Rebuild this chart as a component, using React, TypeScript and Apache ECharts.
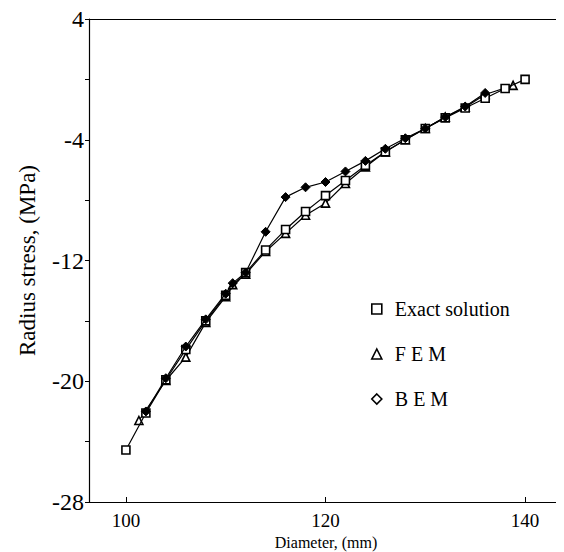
import React, { useEffect, useRef } from "react";
import * as echarts from "echarts";

const exactX = [100, 102, 104, 106, 108, 110, 112, 114, 116, 118, 120, 122, 124, 126, 128, 130, 132, 134, 136, 138, 140];
const exactY = [-24.55, -22.1, -19.9, -17.9, -16.0, -14.3, -12.8, -11.3, -9.95, -8.75, -7.7, -6.7, -5.7, -4.8, -4.0, -3.25, -2.55, -1.9, -1.25, -0.6, 0.0];

const femX = [101.3, 104, 106, 108, 110, 110.7, 112, 114, 116, 118, 120, 122, 124, 126, 128, 130, 132, 134, 136, 138.8];
const femY = [-22.6, -19.95, -18.4, -16.1, -14.4, -13.6, -12.9, -11.4, -10.2, -9.0, -8.2, -6.9, -5.8, -4.8, -4.0, -3.25, -2.5, -1.85, -1.0, -0.4];

const bemX = [102, 104, 106, 108, 110, 110.7, 112, 114, 116, 118, 120, 122, 124, 126, 128, 130, 132, 134, 136];
const bemY = [-22.0, -19.8, -17.7, -15.9, -14.2, -13.5, -12.8, -10.1, -7.8, -7.15, -6.8, -6.1, -5.4, -4.6, -3.9, -3.25, -2.5, -1.8, -0.9];

const xTicks = [100, 120, 140];
const yLabelValues = [-28, -20, -12, -4, 4];
const yTickValues = [-28, -24, -20, -16, -12, -8, -4, 0, 4];

const seriesNames = ["Exact solution", "F E M", "B E M"];

const zip = (xs: number[], ys: number[]) => xs.map((x, i) => [x, ys[i]]);

const FONT = "'Liberation Serif', 'DejaVu Serif', serif";

export default function App() {
  const ref = useRef<HTMLDivElement>(null);
  useEffect(() => {
    if (!ref.current) return;
    const chart = echarts.init(ref.current, null, { renderer: "svg" });
    const common = {
      type: "line",
      symbolSize: 8,
      lineStyle: { color: "#000", width: 1.2 },
    };
    chart.setOption({
      animation: false,
      backgroundColor: "#fff",
      grid: { left: 89, right: 1, top: 19, bottom: 50, containLabel: false, outerBoundsMode: "none" },
      legend: {
        orient: "vertical",
        left: 366,
        top: 294,
        itemWidth: 10,
        itemHeight: 10,
        itemGap: 25,
        textStyle: { fontFamily: FONT, fontSize: 20, color: "#000", padding: [0, 0, 0, 8] },
        data: [
          { name: seriesNames[0], icon: "rect", itemStyle: { color: "#fff", borderColor: "#000", borderWidth: 1.6 } },
          { name: seriesNames[1], icon: "triangle", itemStyle: { color: "#fff", borderColor: "#000", borderWidth: 1.6 } },
          { name: seriesNames[2], icon: "diamond", itemStyle: { color: "#fff", borderColor: "#000", borderWidth: 1.6 } },
        ],
      },
      xAxis: [
        {
          type: "value",
          min: 96.3,
          max: 143.8,
          name: "Diameter, (mm)",
          nameLocation: "middle",
          nameGap: 28,
          nameTextStyle: { fontFamily: FONT, fontSize: 16, color: "#000" },
          axisLine: { show: true, onZero: false, lineStyle: { color: "#000", width: 1.2 } },
          axisTick: { show: true, inside: true, length: 5, customValues: xTicks, lineStyle: { color: "#000" } },
          axisLabel: { customValues: xTicks, fontFamily: FONT, fontSize: 19, color: "#000", margin: 9 },
          splitLine: { show: false },
        },
        {
          type: "value",
          position: "top",
          min: 96.3,
          max: 143.8,
          axisLine: { show: true, onZero: false, lineStyle: { color: "#000", width: 1.2 } },
          axisTick: { show: false },
          axisLabel: { show: false },
          splitLine: { show: false },
        },
      ],
      yAxis: {
        type: "value",
        min: -28,
        max: 4,
        name: "Radius stress, (MPa)",
        nameLocation: "middle",
        nameGap: 50,
        nameTextStyle: { fontFamily: FONT, fontSize: 23, color: "#000" },
        axisLine: { show: true, onZero: false, lineStyle: { color: "#000", width: 1.2 } },
        axisTick: { show: true, length: 4, customValues: yTickValues, lineStyle: { color: "#000" } },
        axisLabel: { customValues: yLabelValues, fontFamily: FONT, fontSize: 24, color: "#000", margin: 5 },
        splitLine: { show: false },
      },
      series: [
        {
          ...common,
          name: seriesNames[0],
          symbol: "rect",
          itemStyle: { color: "#fff", borderColor: "#000", borderWidth: 1.6 },
          data: zip(exactX, exactY),
          z: 3,
        },
        {
          ...common,
          name: seriesNames[1],
          symbol: "triangle",
          itemStyle: { color: "#fff", borderColor: "#000", borderWidth: 1.6 },
          data: zip(femX, femY),
          z: 2,
        },
        {
          ...common,
          name: seriesNames[2],
          symbol: "diamond",
          symbolSize: 9,
          itemStyle: { color: "#000", borderColor: "#000", borderWidth: 1 },
          data: zip(bemX, bemY),
          z: 4,
        },
      ],
    });
    return () => chart.dispose();
  }, []);
  return <div ref={ref} style={{ width: 564, height: 552, transform: "translate(-8px, -8px)" }} />;
}
